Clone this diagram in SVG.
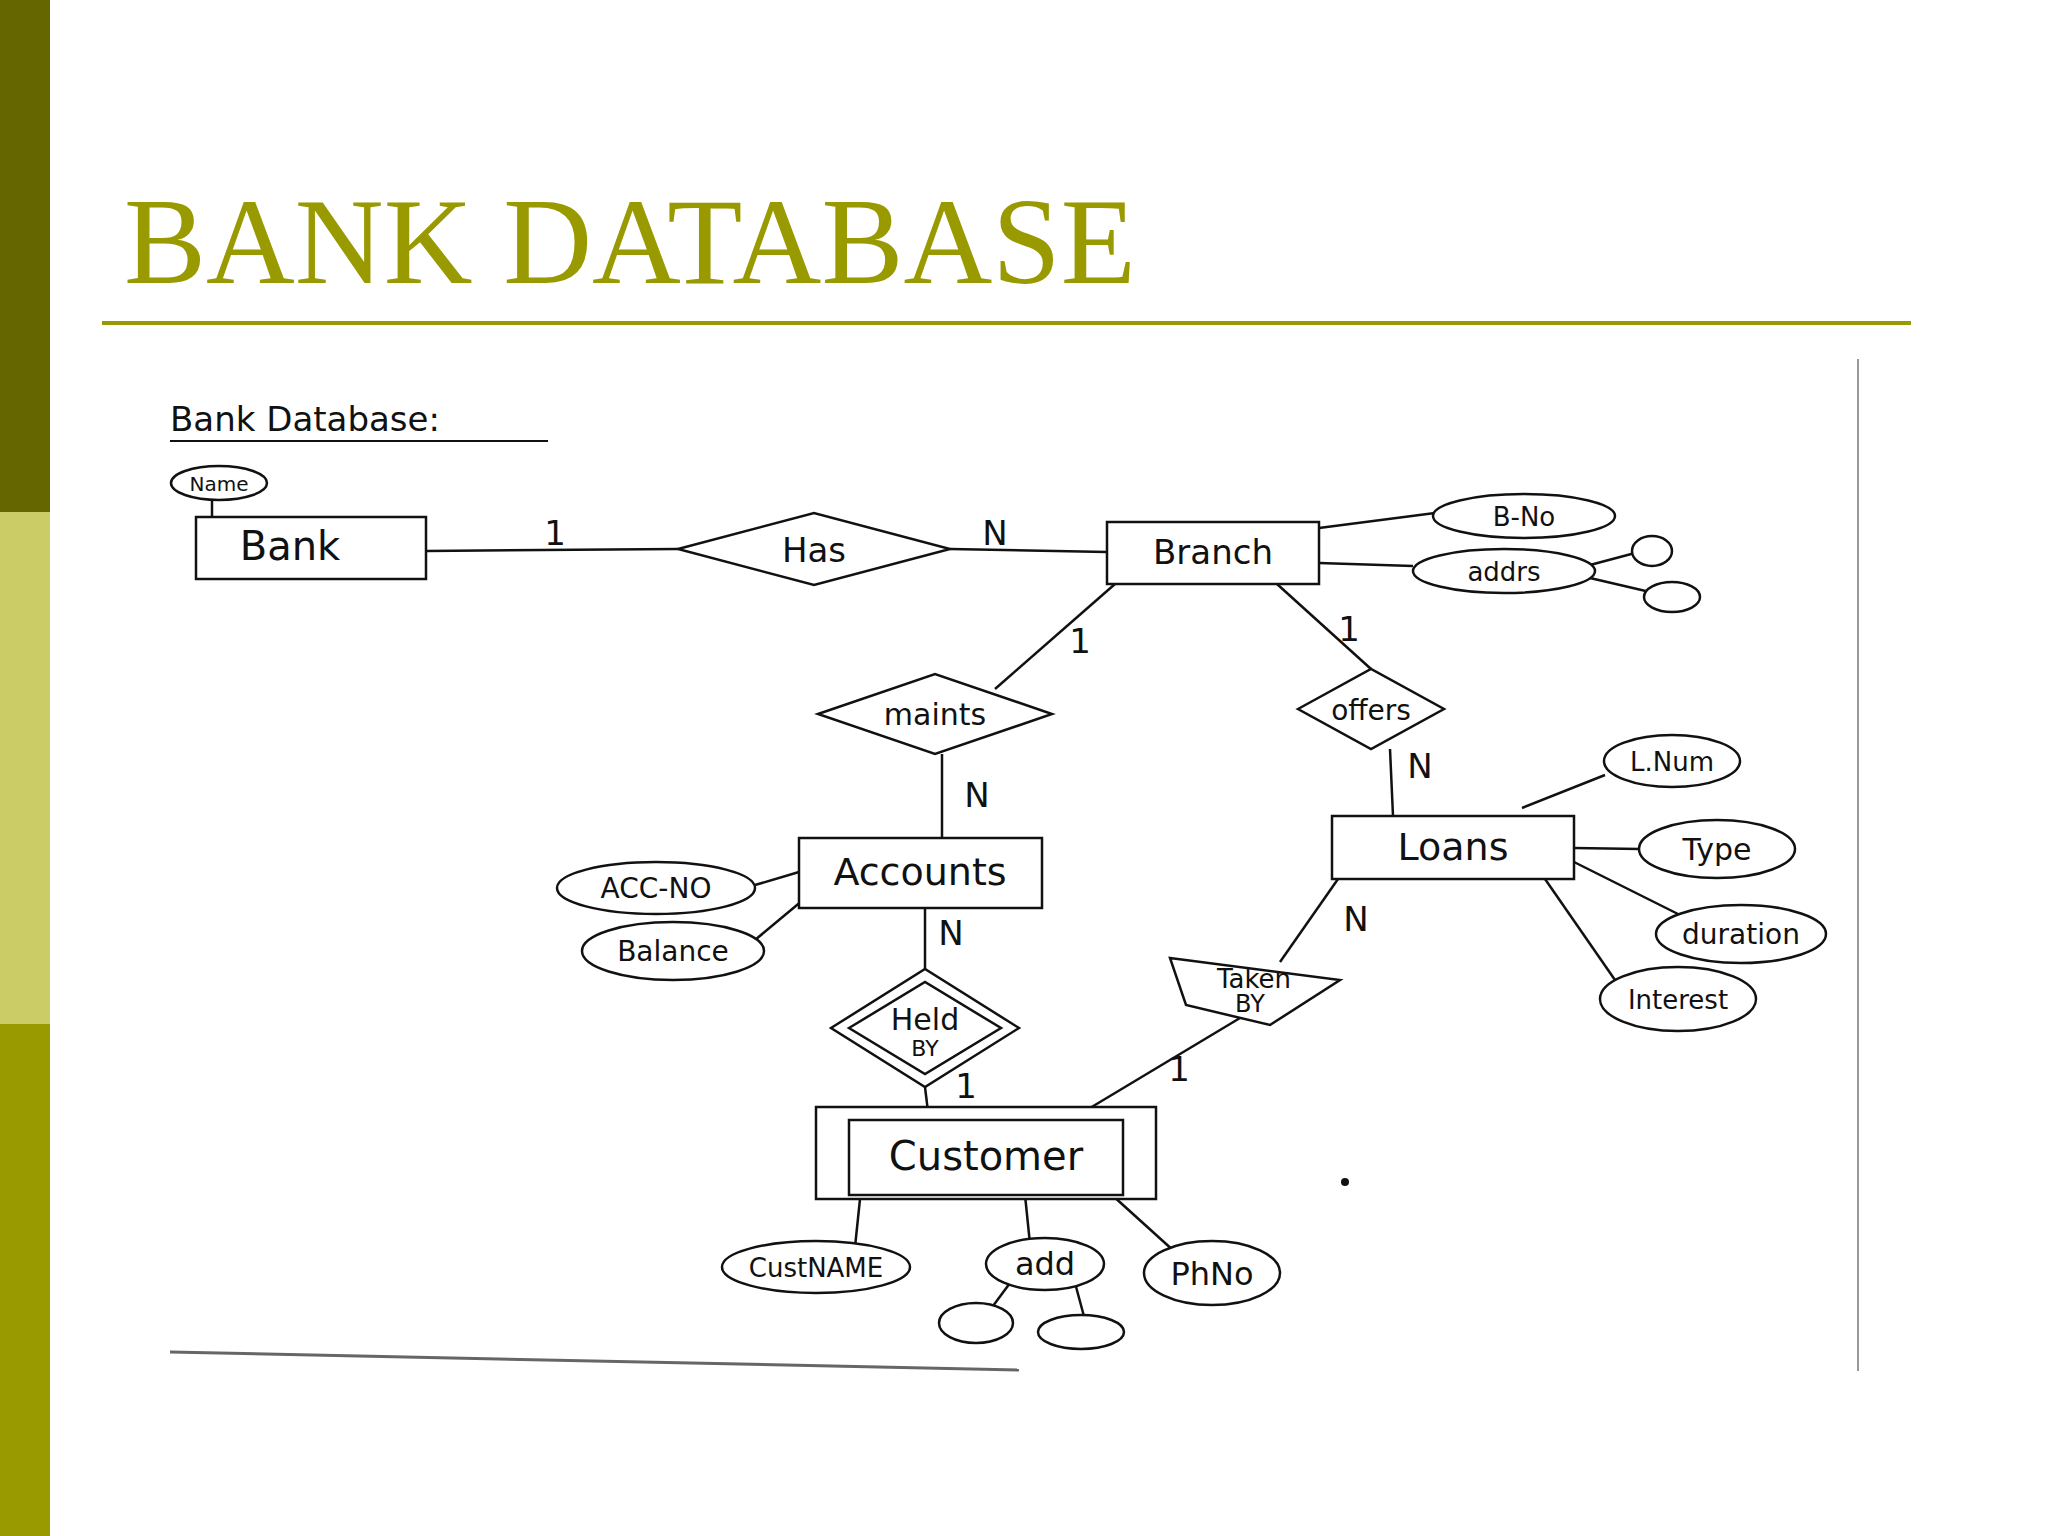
<svg xmlns="http://www.w3.org/2000/svg" width="2048" height="1536" viewBox="0 0 2048 1536">
<style>
.s{fill:none;stroke:#111;stroke-width:2.5}
.n{fill:#fff;stroke:#111;stroke-width:2.5}
.t{font-family:"Comic Sans MS","DejaVu Sans",sans-serif;fill:#111;text-anchor:middle}
.c{font-family:"DejaVu Sans",sans-serif;font-size:34px;fill:#111;text-anchor:middle}
</style>
<rect width="2048" height="1536" fill="#fff"/>
<rect x="0" y="0" width="50" height="512" fill="#666600"/>
<rect x="0" y="512" width="50" height="512" fill="#cccc66"/>
<rect x="0" y="1024" width="50" height="512" fill="#999900"/>
<text x="124" y="283" font-family="Liberation Serif,serif" font-size="123" fill="#999900">BANK DATABASE</text>
<line x1="102" y1="323" x2="1911" y2="323" stroke="#999900" stroke-width="4"/>
<line x1="1858" y1="359" x2="1858" y2="1371" stroke="#999" stroke-width="2"/>
<line x1="170" y1="1352" x2="1019" y2="1370" stroke="#666" stroke-width="3"/>
<text x="170" y="431" font-family="DejaVu Sans,sans-serif" font-size="34" fill="#111">Bank  Database:</text>
<line x1="170" y1="441" x2="548" y2="441" stroke="#111" stroke-width="2"/>
<circle cx="1345" cy="1182" r="4" fill="#111"/>
<g id="connectors" class="s">
<path d="M212 500 L212 517"/>
<path d="M426 551 L678 549"/><path d="M950 549 L1107 552"/>
<path d="M1319 528 L1435 513"/><path d="M1319 563 L1413 566"/>
<path d="M1590 565 L1635 553"/><path d="M1590 578 L1650 592"/>
<path d="M1115 584 L995 689"/><path d="M1277 584 L1371 669"/>
<path d="M942 754 L942 838"/><path d="M1390 749 L1393 816"/>
<path d="M755 885 L799 872"/><path d="M755 940 L803 900"/>
<path d="M1522 808 L1605 775"/><path d="M1574 848 L1640 849"/>
<path d="M1574 862 L1680 915"/><path d="M1545 879 L1615 980"/>
<path d="M925 908 L925 969"/><path d="M925 1087 L929 1120"/>
<path d="M1338 879 L1280 962"/><path d="M1240 1018 L1070 1120"/>
<path d="M860 1199 L855 1247"/><path d="M1025 1195 L1030 1244"/><path d="M1112 1195 L1175 1252"/>
<path d="M1010 1283 L990 1310"/><path d="M1075 1283 L1085 1320"/>
</g>
<g id="name"><ellipse class="n" cx="219" cy="483" rx="48" ry="17"/><text class="t" x="219" y="491" font-size="20">Name</text></g>
<g id="bank"><rect class="n" x="196" y="517" width="230" height="62"/><text class="t" x="290" y="560" font-size="40">Bank</text></g>
<g id="has"><polygon class="n" points="678,549 814,513 950,549 814,585"/><text class="t" x="814" y="562" font-size="34">Has</text></g>
<g id="branch"><rect class="n" x="1107" y="522" width="212" height="62"/><text class="t" x="1213" y="564" font-size="34">Branch</text></g>
<g id="bno"><ellipse class="n" cx="1524" cy="516" rx="91" ry="22"/><text class="t" x="1524" y="526" font-size="26">B-No</text></g>
<g id="addr"><ellipse class="n" cx="1504" cy="571" rx="91" ry="22"/><text class="t" x="1504" y="581" font-size="26">addrs</text></g>
<g id="addr1"><ellipse class="n" cx="1652" cy="551" rx="20" ry="15"/></g>
<g id="addr2"><ellipse class="n" cx="1672" cy="597" rx="28" ry="15"/></g>
<g id="maints"><polygon class="n" points="818,714 935,674 1052,714 935,754"/><text class="t" x="935" y="725" font-size="30">maints</text></g>
<g id="offers"><polygon class="n" points="1298,709 1371,669 1444,709 1371,749"/><text class="t" x="1371" y="720" font-size="28">offers</text></g>
<g id="accounts"><rect class="n" x="799" y="838" width="243" height="70"/><text class="t" x="920" y="885" font-size="38">Accounts</text></g>
<g id="accno"><ellipse class="n" cx="656" cy="888" rx="99" ry="26"/><text class="t" x="656" y="898" font-size="28">ACC-NO</text></g>
<g id="balance"><ellipse class="n" cx="673" cy="951" rx="91" ry="29"/><text class="t" x="673" y="961" font-size="28">Balance</text></g>
<g id="loans"><rect class="n" x="1332" y="816" width="242" height="63"/><text class="t" x="1453" y="860" font-size="38">Loans</text></g>
<g id="lnum"><ellipse class="n" cx="1672" cy="761" rx="68" ry="26"/><text class="t" x="1672" y="771" font-size="26">L.Num</text></g>
<g id="type"><ellipse class="n" cx="1717" cy="849" rx="78" ry="29"/><text class="t" x="1717" y="860" font-size="30">Type</text></g>
<g id="duration"><ellipse class="n" cx="1741" cy="934" rx="85" ry="29"/><text class="t" x="1741" y="944" font-size="28">duration</text></g>
<g id="interest"><ellipse class="n" cx="1678" cy="999" rx="78" ry="32"/><text class="t" x="1678" y="1009" font-size="26">Interest</text></g>
<g id="heldby"><polygon class="n" points="831,1028 925,969 1019,1028 925,1087"/><polygon class="n" points="849,1028 925,982 1001,1028 925,1074"/><text class="t" x="925" y="1030" font-size="30">Held</text><text class="t" x="925" y="1056" font-size="22">BY</text></g>
<g id="takenby"><polygon class="n" points="1170,958 1340,980 1270,1025 1186,1005"/><text class="t" x="1254" y="988" font-size="26">Taken</text><text class="t" x="1250" y="1012" font-size="24">BY</text></g>
<g id="customer"><rect class="n" x="816" y="1107" width="340" height="92"/><rect class="n" x="849" y="1120" width="274" height="75"/><text class="t" x="986" y="1170" font-size="40">Customer</text></g>
<g id="custname"><ellipse class="n" cx="816" cy="1267" rx="94" ry="26"/><text class="t" x="816" y="1277" font-size="26">CustNAME</text></g>
<g id="add"><ellipse class="n" cx="1045" cy="1264" rx="59" ry="26"/><text class="t" x="1045" y="1275" font-size="32">add</text></g>
<g id="phno"><ellipse class="n" cx="1212" cy="1273" rx="68" ry="32"/><text class="t" x="1212" y="1285" font-size="32">PhNo</text></g>
<g id="add1"><ellipse class="n" cx="976" cy="1323" rx="37" ry="20"/></g>
<g id="add2"><ellipse class="n" cx="1081" cy="1332" rx="43" ry="17"/></g>
<g id="labels">
<text class="c" x="555" y="545">1</text><text class="c" x="995" y="545">N</text>
<text class="c" x="1080" y="653">1</text><text class="c" x="1349" y="641">1</text>
<text class="c" x="1420" y="778">N</text><text class="c" x="977" y="807">N</text>
<text class="c" x="951" y="945">N</text><text class="c" x="1356" y="931">N</text>
<text class="c" x="966" y="1098">1</text><text class="c" x="1179" y="1081">1</text>
</g>
</svg>
